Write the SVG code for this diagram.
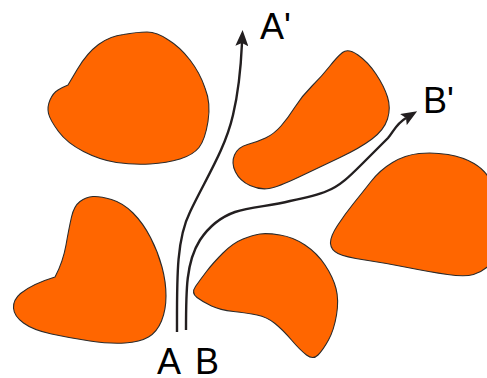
<svg xmlns="http://www.w3.org/2000/svg" width="487" height="378" viewBox="0 0 487 378">
<style>
.blob{fill:#ff6600;stroke:#2b2b2b;stroke-width:1.1;stroke-linejoin:round}
.route{fill:none;stroke:#231f20;stroke-width:2.4;stroke-linecap:butt}
.lbl{font-family:"Liberation Sans",Arial,sans-serif;font-size:36px;fill:#000}
</style>
<defs>
<marker id="arr" viewBox="0 0 16 13" markerWidth="16" markerHeight="13" refX="3" refY="6.5" orient="auto" markerUnits="userSpaceOnUse">
<path d="M0,0 L16,6.5 L0,13 L3,6.5 Z" fill="#231f20"/>
</marker>
</defs>
<g id="blob1"><path class="blob" d="M68,85 L77.5,69 Q87,53 98.5,44.5 Q110,36 123.5,34.5 Q137,32 147,32 Q157,32 168.5,40 Q180,47 190,60 Q200,73 205,88 Q211,103 208,121.5 Q205,140 199,147.5 Q193,155 180,159 Q167,163 150,164 Q133,165 116.5,162.5 Q100,160 83.5,151.5 Q67,143 58.5,131.5 Q50,120 48.5,113.5 Q47,107 50,100 Q53,93 58,90 Q63,87 68,85 Z"/></g>
<g id="blob2"><path class="blob" d="M342.5,52.5 Q348,48 358,55 Q368,62 376,74 Q384,86 387.5,97 Q391,108 387.5,119 Q384,130 372,139 Q360,148 340,157.5 Q320,167 299,177 Q278,187 269,188.5 Q260,190 250,185.5 Q240,181 235.5,172 Q231,163 234.5,155 Q238,147 247.5,144.5 Q257,142 265.5,138 Q274,134 281,126 Q288,118 295,107 Q302,96 312,86 Q322,76 329.5,66.5 Q337,57 342.5,52.5 Z"/></g>
<g id="blob3"><path class="blob" d="M419,153.5 Q433,152 448,154.5 Q463,157 474,163.5 Q485,170 490,180 Q495,190 495,225 Q495,260 488.5,266 Q482,272 473.5,274.5 Q465,277 447.5,274.5 Q430,272 407.5,267.5 Q385,263 365,260 Q345,257 338,253.5 Q331,250 330.5,243.5 Q330,237 337.5,225.5 Q345,214 353.5,203.5 Q362,193 371,181.5 Q380,170 392.5,162.5 Q405,155 419,153.5 Z"/></g>
<g id="blob4"><path class="blob" d="M55,277 Q63,262 66,245 Q69,228 71.5,217 Q74,206 80,201.5 Q86,197 93,196.5 Q100,196 111.5,199.5 Q123,203 133,213 Q143,223 150.5,237.5 Q158,252 162,267 Q166,282 166,296 Q166,310 161.5,321 Q157,332 148.5,337 Q140,342 125,343 Q110,344 90,341 Q70,338 51.5,334 Q33,330 23.5,323 Q14,316 13.5,308 Q13,300 20.5,293.5 Q32,284 55,277 Z"/></g>
<g id="blob5"><path class="blob" d="M260,234 Q267,233 280,235 Q293,237 305,245 Q317,253 325,265 Q333,277 336,288.5 Q339,300 336.5,315 Q334,330 328.5,340 Q323,350 318,355 Q313,360 306.5,355 Q300,350 291.5,340 Q283,330 275,323.5 Q267,317 257,315 Q247,313 233.5,311.5 Q220,310 211.5,306 Q203,302 197,297.5 Q191,293 195.5,286.5 Q200,280 206.5,271.5 Q213,263 223,253 Q233,243 243,239 Q253,235 260,234 Z"/></g>
<g id="connectors">
<path class="route" marker-end="url(#arr)" d="M177,332 C177,280 176,240 190,212 C205,180 225,150 233,115 C239,90 241,65 242,43"/>
<path class="route" marker-end="url(#arr)" d="M186,330 C186,290 186,262 200,240 C208,228 218,218 235,212 C250,207 270,206 290,201 C305,198 318,195 327,191 C340,186 350,176 362,164 C372,154 380,146 388,138 C394,131 396,124 406,118"/>
</g>
<g id="labels">
<text class="lbl" x="260" y="39">A'</text>
<text class="lbl" x="423" y="113">B'</text>
<text class="lbl" x="157" y="374">A</text>
<text class="lbl" x="195" y="374">B</text>
</g>
</svg>
